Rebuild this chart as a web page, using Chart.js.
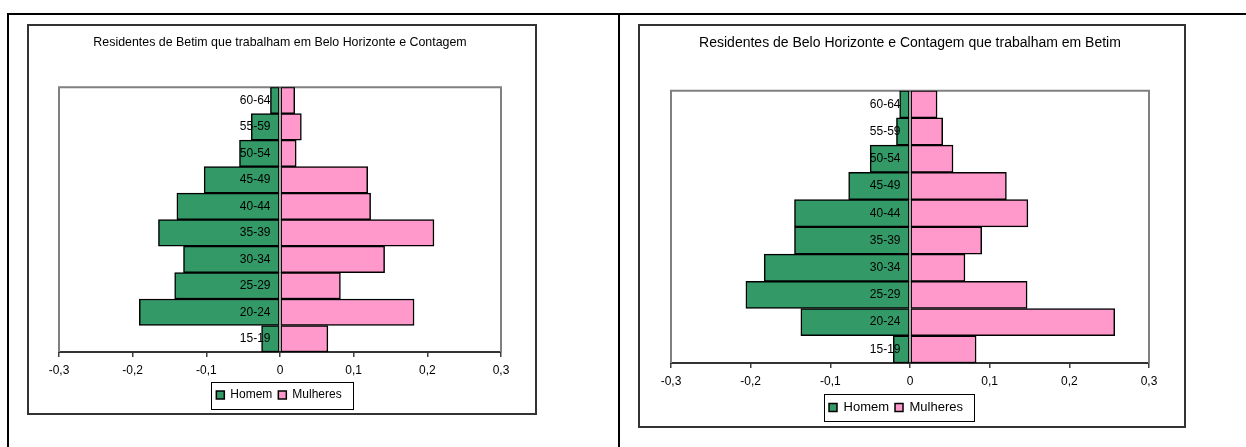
<!DOCTYPE html>
<html>
<head>
<meta charset="utf-8">
<script src="https://cdn.jsdelivr.net/npm/chart.js@4.4.1/dist/chart.umd.min.js"></script>
<style>
  html, body { margin: 0; padding: 0; background: #fff; }
  body { width: 1246px; height: 447px; position: relative; overflow: hidden; }
  .rule { position: absolute; background: #000; }
  .box { position: absolute; box-sizing: border-box; border: 2px solid #333; background: #fff; }
  .box canvas { position: absolute; left: 0; top: 0; }
</style>
</head>
<body>
<div class="rule" style="left:7px; top:13px; width:1239px; height:2px;"></div>
<div class="rule" style="left:7px; top:13px; width:2px; height:434px;"></div>
<div class="rule" style="left:618px; top:13px; width:2px; height:434px;"></div>

<div class="box" style="left:27px; top:24px; width:510px; height:391px;">
  <canvas id="chartA" width="506" height="387"></canvas>
</div>
<div class="box" style="left:638px; top:24px; width:548px; height:404px;">
  <canvas id="chartB" width="544" height="400"></canvas>
</div>

<script>
// Age groups, youngest first (drawn at the bottom)
const ageGroups = ['15-19', '20-24', '25-29', '30-34', '35-39', '40-44', '45-49', '50-54', '55-59', '60-64'];

// Betim residents working in Belo Horizonte and Contagem
const betimHomem    = [-0.025, -0.191, -0.143, -0.131, -0.165, -0.140, -0.103, -0.055, -0.039, -0.013];
const betimMulheres = [0.065, 0.182, 0.082, 0.142, 0.209, 0.123, 0.119, 0.022, 0.029, 0.020];

// Belo Horizonte and Contagem residents working in Betim
const bhHomem    = [-0.021, -0.137, -0.206, -0.183, -0.145, -0.145, -0.077, -0.050, -0.017, -0.013];
const bhMulheres = [0.083, 0.257, 0.147, 0.069, 0.090, 0.148, 0.121, 0.054, 0.041, 0.034];

const xTickValues = [-0.3, -0.2, -0.1, 0, 0.1, 0.2, 0.3];
const xTickLabels = ['-0,3', '-0,2', '-0,1', '0', '0,1', '0,2', '0,3'];

const seriesNames = ['Homem', 'Mulheres'];
const titleA = 'Residentes de Betim que trabalham em Belo Horizonte e Contagem';
const titleB = 'Residentes de Belo Horizonte e Contagem que trabalham em Betim';

const FONT = "'Liberation Sans', Arial, Helvetica, sans-serif";
const GREEN = '#339966';
const PINK = '#FF99CC';

// Grey frame around the plot area (top, left, right); the x axis closes the bottom
const plotFrame = {
  id: 'plotFrame',
  beforeDatasetsDraw(chart) {
    const {ctx, chartArea: a} = chart;
    ctx.save();
    ctx.strokeStyle = '#808080';
    ctx.lineWidth = 2;
    ctx.beginPath();
    ctx.moveTo(a.left, a.bottom);
    ctx.lineTo(a.left, a.top);
    ctx.lineTo(a.right, a.top);
    ctx.lineTo(a.right, a.bottom);
    ctx.stroke();
    ctx.restore();
  }
};

// Age-group labels sit just left of the zero line, over the bars
const ageLabels = {
  id: 'ageLabels',
  afterDatasetsDraw(chart) {
    const {ctx, scales: {x, y}} = chart;
    const x0 = x.getPixelForValue(0) - 9.5;
    ctx.save();
    ctx.fillStyle = '#000';
    ctx.font = '12px ' + FONT;
    ctx.textAlign = 'right';
    ctx.textBaseline = 'middle';
    chart.data.labels.forEach((lab, i) => {
      ctx.fillText(lab, x0, y.getPixelForValue(i));
    });
    ctx.restore();
  }
};

// Horizontal nudge of the legend block, then a thin black box around its entries
const legendFrame = {
  id: 'legendFrame',
  afterLayout(chart, args, opts) {
    const lg = chart.legend;
    if (lg && opts.shift) {
      lg.left += opts.shift;
      lg.right += opts.shift;
    }
  },
  afterDraw(chart) {
    const lg = chart.legend;
    if (!lg || !lg.legendHitBoxes || !lg.legendHitBoxes.length) return;
    const hb = lg.legendHitBoxes;
    const first = hb[0], last = hb[hb.length - 1];
    const cy = first.top + first.height / 2;
    const x0 = Math.round(first.left - 5) + 0.5;
    const x1 = Math.round(last.left + last.width + 11) + 0.5;
    const y0 = Math.round(cy - 13.5) + 0.5;
    const { ctx } = chart;
    ctx.save();
    ctx.strokeStyle = '#000';
    ctx.lineWidth = 1;
    ctx.strokeRect(x0, y0, x1 - x0, 27);
    ctx.restore();
  }
};

function makePyramid(canvasId, title, homem, mulheres, cfg) {
  return new Chart(document.getElementById(canvasId), {
    type: 'bar',
    data: {
      labels: ageGroups,
      datasets: [
        { label: seriesNames[0], data: homem, backgroundColor: GREEN, borderColor: '#000', borderWidth: 1.5, borderSkipped: false, grouped: false },
        { label: seriesNames[1], data: mulheres, backgroundColor: PINK, borderColor: '#000', borderWidth: 1.5, borderSkipped: false, grouped: false }
      ]
    },
    options: {
      indexAxis: 'y',
      responsive: false,
      animation: false,
      devicePixelRatio: 1,
      barPercentage: 1,
      categoryPercentage: 1,
      layout: { padding: { left: cfg.padLeft, right: cfg.padRight, top: 0, bottom: cfg.padBottom } },
      scales: {
        x: {
          type: 'linear',
          min: -0.3,
          max: 0.3,
          afterBuildTicks(scale) { scale.ticks = xTickValues.map(v => ({ value: v })); },
          afterFit(scale) { scale.height = cfg.axisHeight; },
          grid: { display: true, drawOnChartArea: false, drawTicks: true, tickLength: 5, color: '#404040', lineWidth: 1.5 },
          border: { display: true, color: '#333', width: 2 },
          ticks: {
            padding: cfg.tickPad,
            color: '#000',
            maxRotation: 0,
            autoSkip: false,
            font: { family: FONT, size: 12 },
            callback(value) {
              const i = xTickValues.findIndex(v => Math.abs(v - value) < 1e-9);
              return i >= 0 ? xTickLabels[i] : '';
            }
          }
        },
        y: {
          type: 'category',
          reverse: true,
          display: false
        }
      },
      plugins: {
        title: {
          display: true,
          text: title,
          color: '#000',
          font: { family: FONT, size: cfg.titleSize, weight: 'normal' },
          padding: { top: cfg.titleTop, bottom: cfg.titleBottom }
        },
        legend: {
          display: true,
          position: 'bottom',
          labels: {
            boxWidth: 8,
            boxHeight: 8,
            padding: 6,
            color: '#000',
            font: { family: FONT, size: cfg.legendSize }
          }
        },
        legendFrame: { shift: cfg.legendShift },
        tooltip: { enabled: false }
      }
    },
    plugins: [plotFrame, ageLabels, legendFrame]
  });
}

makePyramid('chartA', titleA, betimHomem, betimMulheres, {
  padLeft: 30, padRight: 34, padBottom: 2,
  axisHeight: 31, tickPad: 6,
  titleSize: 12.4, titleTop: 9.3, titleBottom: 37,
  legendSize: 12, legendShift: -1
});

makePyramid('chartB', titleB, bhHomem, bhMulheres, {
  padLeft: 31, padRight: 35, padBottom: 2,
  axisHeight: 32, tickPad: 6,
  titleSize: 14, titleTop: 8.9, titleBottom: 39,
  legendSize: 13, legendShift: -14
});
</script>
</body>
</html>
